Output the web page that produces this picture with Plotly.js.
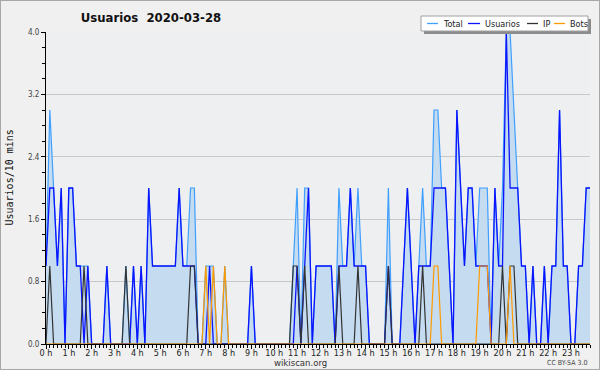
<!DOCTYPE html>
<html><head><meta charset="utf-8">
<script src="https://cdn.plot.ly/plotly-3.0.1.min.js"></script>
<style>
html,body{margin:0;padding:0;background:#f0f0f0;}
#wrap{position:relative;width:600px;height:370px;}
#chart{width:600px;height:370px;}
#frame{position:absolute;left:0;top:0;width:598px;height:368px;border:1px solid #a8a8a8;pointer-events:none;}
</style>
</head><body><div id="wrap"><div id="chart"></div><div id="frame"></div></div>
<script>
// 10-minute slots, 0h00 .. 23h50
const hourLabels = ["0 h","1 h","2 h","3 h","4 h","5 h","6 h","7 h","8 h","9 h","10 h","11 h","12 h","13 h","14 h","15 h","16 h","17 h","18 h","19 h","20 h","21 h","22 h","23 h"];
const total = [
 1,3,2,1,2,0,2,2,1,1,1,1,
 0,0,0,0,1,0,0,0,0,1,0,1,
 0,1,0,2,1,1,1,1,1,1,1,2,
 1,1,2,2,0,0,1,1,1,0,0,1,
 0,0,0,0,0,0,1,0,0,0,0,0,
 0,0,0,0,0,1,2,0,2,2,0,1,
 1,1,1,1,0,2,1,1,2,1,2,1,
 1,0,0,0,0,0,2,0,0,0,1,2,
 1,0,1,2,1,1,3,3,2,2,1,0,
 3,2,1,2,2,1,2,2,2,0,2,1,
 2,4,4,3,2,1,1,0,1,0,0,1,
 0,1,1,3,1,1,0,0,1,1,2,2];
const usuarios = [
 1,2,2,1,2,0,2,2,1,1,0,1,
 0,0,0,0,1,0,0,0,0,0,0,1,
 0,1,0,2,1,1,1,1,1,1,1,2,
 1,1,1,1,0,0,0,1,0,0,0,0,
 0,0,0,0,0,0,1,0,0,0,0,0,
 0,0,0,0,0,0,1,0,1,2,0,1,
 1,1,1,1,0,1,1,1,2,1,1,1,
 1,0,0,0,0,0,1,0,0,0,1,2,
 1,0,1,1,1,1,2,2,2,2,1,0,
 3,2,1,2,2,1,1,1,1,0,2,1,
 1,4,2,2,2,1,1,0,1,0,0,1,
 0,1,1,3,1,1,0,0,1,1,2,2];
const ip = [
 0,1,0,0,0,0,0,0,0,0,1,0,
 0,0,0,0,0,0,0,0,0,1,0,0,
 0,0,0,0,0,0,0,0,0,0,0,0,
 0,0,1,1,0,0,0,0,0,0,0,0,
 0,0,0,0,0,0,0,0,0,0,0,0,
 0,0,0,0,0,1,1,0,1,0,0,0,
 0,0,0,0,0,1,0,0,0,0,1,0,
 0,0,0,0,0,0,1,0,0,0,0,0,
 0,0,0,1,0,0,0,0,0,0,0,0,
 0,0,0,0,0,0,0,0,0,0,0,0,
 1,0,1,1,0,0,0,0,0,0,0,0,
 0,0,0,0,0,0,0,0,0,0,0,0];
const bots = [
 0,0,0,0,0,0,0,0,0,0,0,0,
 0,0,0,0,0,0,0,0,0,0,0,0,
 0,0,0,0,0,0,0,0,0,0,0,0,
 0,0,0,0,0,0,1,0,1,0,0,1,
 0,0,0,0,0,0,0,0,0,0,0,0,
 0,0,0,0,0,0,0,0,0,0,0,0,
 0,0,0,0,0,0,0,0,0,0,0,0,
 0,0,0,0,0,0,0,0,0,0,0,0,
 0,0,0,0,0,0,1,1,0,0,0,0,
 0,0,0,0,0,0,1,1,1,0,0,0,
 0,0,1,0,0,0,0,0,0,0,0,0,
 0,0,0,0,0,0,0,0,0,0,0,0];
const seriesNames = ["Total","Usuarios","IP","Bots"];
const seriesColors = ["#3f9fff","#0a14ff","#333333","#ff9900"];

const slots = total.map((_, i) => i);
const COND = "DejaVu Sans Condensed, Liberation Sans Narrow, DejaVu Sans, sans-serif";

const traces = [
 {x: slots, y: total, name: seriesNames[0], type: "scatter", mode: "lines",
  line: {color: seriesColors[0], width: 1.2}, fill: "tozeroy", fillcolor: "rgb(197,220,240)"},
 {x: slots, y: usuarios, name: seriesNames[1], type: "scatter", mode: "lines",
  line: {color: seriesColors[1], width: 1.3}},
 {x: slots, y: ip, name: seriesNames[2], type: "scatter", mode: "lines",
  line: {color: seriesColors[2], width: 1.2}},
 {x: slots, y: bots, name: seriesNames[3], type: "scatter", mode: "lines",
  line: {color: seriesColors[3], width: 1.2}}
];

const L = 46, R = 590, T = 32, B = 344;
const px = x => (x - L) / (R - L);
const py = y => (B - y) / (B - T);

const shapes = [
 {type: "rect", xref: "paper", yref: "paper", x0: px(424), x1: px(591), y0: py(34), y1: py(19),
  fillcolor: "#8c8c8c", line: {width: 0}},
 {type: "rect", xref: "paper", yref: "paper", x0: px(421), x1: px(588), y0: py(31), y1: py(16),
  fillcolor: "#ffffff", line: {color: "#a0a0a0", width: 1}}
];
const legX = [[427, 438, 442], [468, 480, 484], [527, 538, 542], [554, 565, 569]];
const annotations = [];
seriesNames.forEach((n, k) => {
  shapes.push({type: "line", xref: "paper", yref: "paper", x0: px(legX[k][0]), x1: px(legX[k][1]),
    y0: py(23.5), y1: py(23.5), line: {color: seriesColors[k], width: 1.3}});
  annotations.push({xref: "paper", yref: "paper", x: px(legX[k][2] - 1), y: py(23.5), xanchor: "left", yanchor: "middle",
    text: n, showarrow: false, font: {family: COND, size: 9, color: "#222"}});
});
annotations.push({xref: "paper", yref: "paper", x: px(8.5), y: py(178), textangle: -90, xanchor: "center", yanchor: "middle",
  text: "Usuarios/10 mins", showarrow: false, font: {family: "DejaVu Sans Mono, monospace", size: 10, color: "#111"}});
annotations.push({xref: "paper", yref: "paper", x: px(300), y: py(362.5), xanchor: "center", yanchor: "middle",
  text: "wikiscan.org", showarrow: false, font: {family: COND, size: 9.5, color: "#333"}});
annotations.push({xref: "paper", yref: "paper", x: px(589), y: py(363), xanchor: "right", yanchor: "middle",
  text: "CC BY-SA 3.0", showarrow: false, font: {family: COND, size: 7, color: "#444"}});

const layout = {
  width: 600, height: 370,
  margin: {l: L, r: 600 - R, t: T, b: 370 - B, pad: 0},
  paper_bgcolor: "#f0f0f0", plot_bgcolor: "#eeeff1",
  showlegend: false,
  title: {text: "<b>Usuarios\u00a0 2020-03-28</b>", font: {family: COND, size: 13, color: "#111"},
    xref: "container", yref: "container", x: 151 / 600, xanchor: "center", y: 1 - 17 / 370, yanchor: "middle"},
  xaxis: {range: [0, 143], tickmode: "array", tickvals: hourLabels.map((_, h) => h * 6), ticktext: hourLabels,
    ticks: "outside", ticklen: 4, tickcolor: "#000", tickwidth: 1, ticklabelstandoff: -4,
    minor: {dtick: 1, tick0: 0, ticks: "outside", ticklen: 3, tickcolor: "#000", showgrid: false},
    showgrid: false, zeroline: false, showline: true, linecolor: "#000", linewidth: 1,
    tickfont: {family: COND, size: 9, color: "#222"}, fixedrange: true},
  yaxis: {range: [0, 4], tick0: 0, dtick: 0.8, tickformat: ".1f",
    ticks: "outside", ticklen: 4, tickcolor: "#000",
    minor: {dtick: 0.2, tick0: 0, ticks: "outside", ticklen: 3, tickcolor: "#000", showgrid: false},
    showgrid: true, gridcolor: "#c8c8c8", gridwidth: 1, zeroline: false, showline: true, linecolor: "#000", linewidth: 1,
    tickfont: {family: COND, size: 8, color: "#444"}, fixedrange: true},
  shapes: shapes, annotations: annotations
};
Plotly.newPlot("chart", traces, layout, {displayModeBar: false, staticPlot: true});
</script></body></html>
